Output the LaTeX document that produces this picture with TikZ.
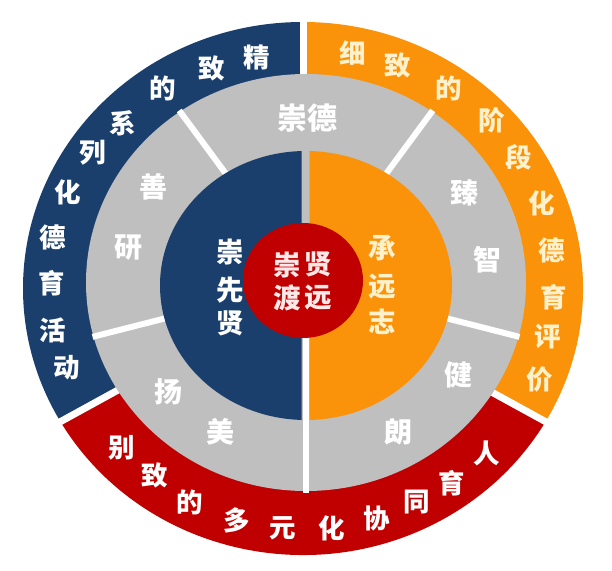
\documentclass[tikz,border=0pt]{standalone}
\usepackage{fontspec}
\newfontfamily\cjk{Noto Sans CJK SC}
\definecolor{navy}{HTML}{1B3F6C}
\definecolor{orng}{HTML}{FA930A}
\definecolor{rd}{HTML}{C00000}
\definecolor{gry}{HTML}{BFBFBF}
\definecolor{cream}{HTML}{FFF1CC}
\definecolor{pinkw}{HTML}{FFE8E8}
\begin{document}
\begin{tikzpicture}[x=1pt,y=1pt,
  sep/.style={white,line width=7pt},
  gsep/.style={white,line width=6pt},
  ch/.style={inner sep=0pt,font=\cjk\bfseries\fontsize{26.5}{26.5}\selectfont},
  outw/.style={ch,text=white},
  outc/.style={ch,text=cream},
  grytxt/.style={inner sep=0pt,text=white,font=\cjk\bfseries\fontsize{28}{28}\selectfont},
  inw/.style={inner sep=0pt,font=\cjk\bfseries\fontsize{27.5}{27.5}\selectfont,text=white},
  inc/.style={inw,text=cream},
  ctr/.style={inw,text=pinkw}]
\useasboundingbox (0,0) rectangle (612,570);
\fill[white] (0,0) rectangle (612,570);
% outer ring
\coordinate (oc) at (303,281.5);
\fill[navy] (oc) -- ++(90:280 and 266.5) arc[start angle=90,end angle=210,x radius=280,y radius=266.5] -- cycle;
\fill[rd] (oc) -- ++(210:280 and 266.5) arc[start angle=210,end angle=330,x radius=280,y radius=266.5] -- cycle;
\fill[orng] (oc) -- ++(330:280 and 266.5) arc[start angle=330,end angle=450,x radius=280,y radius=266.5] -- cycle;
\foreach \a in {90,210,330} \draw[sep] (oc) -- ++(\a:285 and 271);
% gray ring
\coordinate (gc) at (306,287.5);
\fill[gry] (gc) ellipse[x radius=220,y radius=208.5];
\foreach \a in {55,125,195,270,345} \draw[gsep] (gc) -- ++(\a:221 and 210);
% inner disk
\coordinate (ic) at (306,284.5);
\begin{scope}
  \clip (0,0) rectangle (301.5,570);
  \fill[navy] (ic) ellipse[x radius=146,y radius=134.5];
\end{scope}
\begin{scope}
  \clip (309.5,0) rectangle (612,570);
  \fill[orng] (ic) ellipse[x radius=146,y radius=134.5];
\end{scope}
% centre
\coordinate (rc) at (303,289.5);
\fill[rd] (rc) ellipse[x radius=60,y radius=57.5];
% outer texts
\foreach \c/\x/\y [count=\i] in {精/257/57,致/212/68,的/163/88,系/123/123,列/93/153,化/68/192,德/53/237,育/52/283,活/53/330,动/67/368}
  \node[outw] (b\i) at (\x,570-\y) {\c};
\foreach \c/\x/\y [count=\i] in {细/353/53,致/398/65,的/449/88,阶/492/120,段/519/157,化/542/203,德/552/250,育/554/297,评/548/337,价/540/380}
  \node[outc] (o\i) at (\x,570-\y) {\c};
\foreach \c/\x/\y [count=\i] in {别/122/448,致/155/475,的/190/502,多/237/520,元/283/528,化/332/528,协/377/518,同/417/502,育/452/483,人/487/453}
  \node[outw] (r\i) at (\x,570-\y) {\c};
% gray ring texts
\node[grytxt,font=\cjk\bfseries\fontsize{30}{30}\selectfont] (g0) at (307,570-118) {崇德};
\foreach \c/\x/\y [count=\i] in {善/153/187,研/128/248,扬/168/392,美/220/432,朗/398/432,健/458/375,臻/464/193,智/487/260}
  \node[grytxt] (g\i) at (\x,570-\y) {\c};
% inner texts
\foreach \c/\y [count=\i] in {崇/252,先/290,贤/323}
  \node[inw] (l\i) at (230,570-\y) {\c};
\foreach \c/\y [count=\i] in {承/248,远/287,志/322}
  \node[inc] (s\i) at (382,570-\y) {\c};
% centre texts
\node[ctr] (c1) at (287,570-265) {崇};
\node[ctr] (c2) at (318,570-264) {贤};
\node[ctr] (c3) at (287,570-298) {渡};
\node[ctr] (c4) at (318,570-298) {远};
\end{tikzpicture}
\end{document}
